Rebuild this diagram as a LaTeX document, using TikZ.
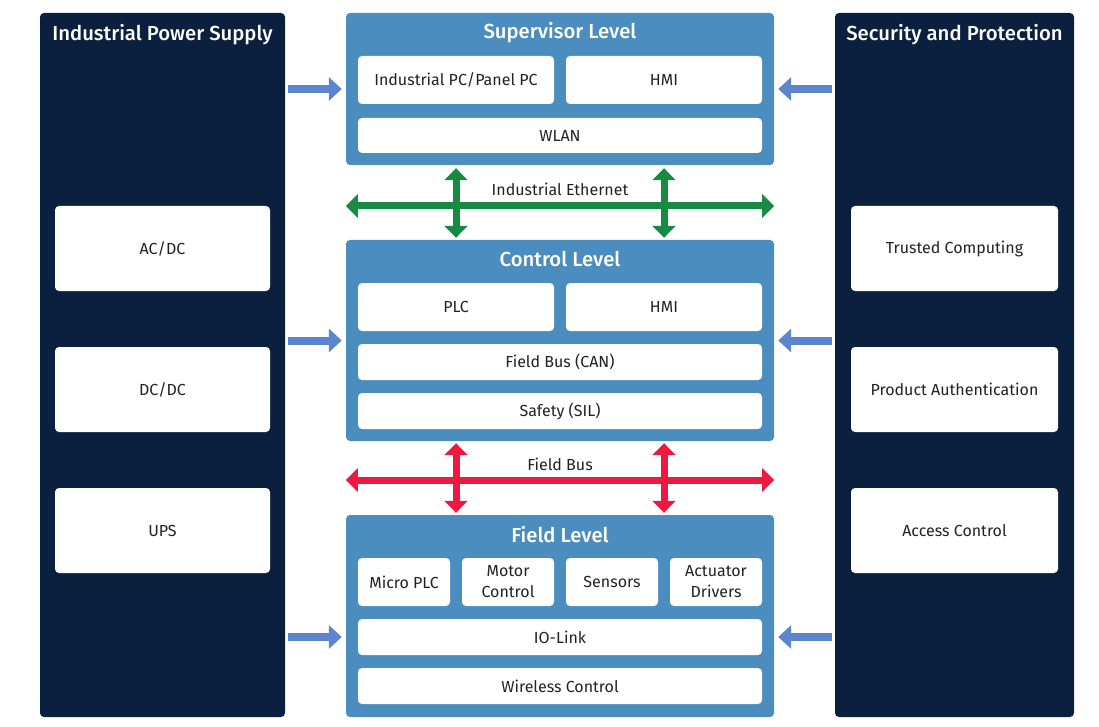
\documentclass[tikz,border=0pt]{standalone}
\usepackage{fontspec}
\setmainfont{Fira Sans}[BoldFont={Fira Sans Medium}]
\usetikzlibrary{arrows.meta}
\definecolor{navy}{HTML}{0B1F3F}
\definecolor{levelblue}{HTML}{4A8DBE}
\definecolor{arrowblue}{HTML}{5B86CF}
\definecolor{ethgreen}{HTML}{178A44}
\definecolor{busred}{HTML}{EE1941}
\definecolor{txt}{HTML}{222222}
\begin{document}
\begin{tikzpicture}[x=1pt,y=-1pt,
  panel/.style={fill=navy, rounded corners=4pt, inner sep=0pt},
  level/.style={fill=levelblue, rounded corners=4pt, inner sep=0pt, minimum width=428pt},
  item/.style={fill=white, rounded corners=4pt, inner sep=0pt, text=txt, align=center,
    font=\fontsize{16}{21}\selectfont},
  title/.style={text=white, inner sep=0pt, font=\fontsize{20.3}{22}\selectfont\bfseries},
  buslabel/.style={text=txt, inner sep=0pt, font=\fontsize{16}{18}\selectfont},
  side/.style={draw=arrowblue, line width=8pt, -{Triangle[length=13pt,width=23pt]}},
  bus/.style={line width=7pt, {Triangle[length=12pt,width=23pt]}-{Triangle[length=12pt,width=23pt]}}]
\useasboundingbox (0,0) rectangle (1099,727);
\node[panel, minimum width=245pt, minimum height=704pt] (psu) at (162.5,365) {};
\node[panel, minimum width=239pt, minimum height=704pt] (sec) at (954.5,365) {};
\node[title] at (162.5,35) {Industrial Power Supply};
\node[title] at (954.5,35) {Security and Protection};
\node[item, minimum width=215pt, minimum height=85pt] (acdc) at (162.5,248.5) {AC/DC};
\node[item, minimum width=215pt, minimum height=85pt] (dcdc) at (162.5,389.5) {DC/DC};
\node[item, minimum width=215pt, minimum height=85pt] (ups) at (162.5,530.5) {UPS};
\node[item, minimum width=207pt, minimum height=85pt] (trust) at (954.5,248.5) {Trusted Computing};
\node[item, minimum width=207pt, minimum height=85pt] (auth) at (954.5,389.5) {Product Authentication};
\node[item, minimum width=207pt, minimum height=85pt] (access) at (954.5,530.5) {Access Control};
\node[level, minimum height=152pt] (sup) at (560,89) {};
\node[title] at (560,33) {Supervisor Level};
\node[item, minimum width=196pt, minimum height=48pt] (ipc) at (456,80) {Industrial PC/Panel PC};
\node[item, minimum width=196pt, minimum height=48pt] (hmia) at (664,80) {HMI};
\node[item, minimum width=404pt, minimum height=35pt] (wlan) at (560,135.5) {WLAN};
\node[level, minimum height=201pt] (ctrl) at (560,340.5) {};
\node[title] at (560,259) {Control Level};
\node[item, minimum width=196pt, minimum height=48pt] (plc) at (456,307) {PLC};
\node[item, minimum width=196pt, minimum height=48pt] (hmib) at (664,307) {HMI};
\node[item, minimum width=404pt, minimum height=36pt] (can) at (560,362) {Field Bus (CAN)};
\node[item, minimum width=404pt, minimum height=36pt] (sil) at (560,411) {Safety (SIL)};
\node[level, minimum height=202pt] (field) at (560,616) {};
\node[title] at (560,535) {Field Level};
\node[item, minimum width=92pt, minimum height=48pt] (mplc) at (404,582) {Micro PLC};
\node[item, minimum width=92pt, minimum height=48pt] (motor) at (508,582) {Motor\\Control};
\node[item, minimum width=92pt, minimum height=48pt] (sens) at (612,582) {Sensors};
\node[item, minimum width=92pt, minimum height=48pt] (act) at (716,582) {Actuator\\Drivers};
\node[item, minimum width=404pt, minimum height=36pt] (iolink) at (560,637) {IO-Link};
\node[item, minimum width=404pt, minimum height=36pt] (wless) at (560,686) {Wireless Control};
\coordinate (eth) at (560,206);
\coordinate (fbus) at (560,480);
\node[buslabel] (ethlabel) at (560,189) {Industrial Ethernet};
\node[buslabel] (fbuslabel) at (560,464) {Field Bus};
\path[side, shorten <=3pt, shorten >=4pt] (psu.east |- sup) -- (sup.west);
\path[side, shorten <=3pt, shorten >=4pt] (psu.east |- ctrl) -- (ctrl.west);
\path[side, shorten <=3pt, shorten >=4pt] (psu.east |- iolink) -- (field.west |- iolink);
\path[side, shorten <=3pt, shorten >=4pt] (sec.west |- sup) -- (sup.east);
\path[side, shorten <=3pt, shorten >=4pt] (sec.west |- ctrl) -- (ctrl.east);
\path[side, shorten <=3pt, shorten >=4pt] (sec.west |- iolink) -- (field.east |- iolink);
\path[draw, bus, ethgreen] (sup.west |- eth) -- (sup.east |- eth);
\path[draw, bus, ethgreen, shorten <=3pt, shorten >=2pt] (ipc |- sup.south) -- (ipc |- ctrl.north);
\path[draw, bus, ethgreen, shorten <=3pt, shorten >=2pt] (hmia |- sup.south) -- (hmia |- ctrl.north);
\path[draw, bus, busred] (ctrl.west |- fbus) -- (ctrl.east |- fbus);
\path[draw, bus, busred, shorten <=2pt, shorten >=2pt] (plc |- ctrl.south) -- (plc |- field.north);
\path[draw, bus, busred, shorten <=2pt, shorten >=2pt] (hmib |- ctrl.south) -- (hmib |- field.north);
\end{tikzpicture}
\end{document}
